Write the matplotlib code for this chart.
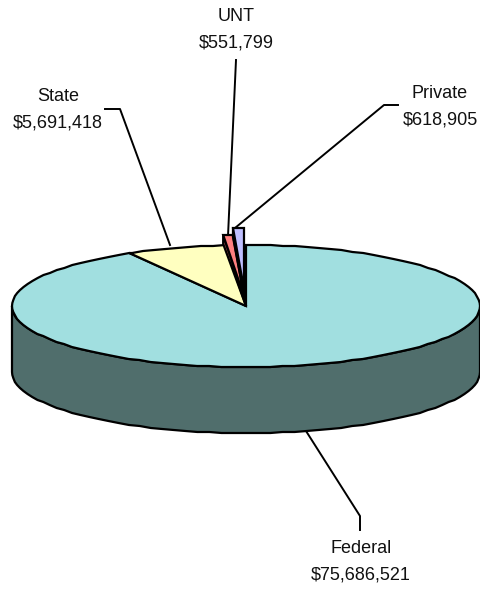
import numpy as np
import matplotlib
matplotlib.use('Agg')
import matplotlib.pyplot as plt
from matplotlib.patches import Polygon

plt.rcParams['font.family'] = ['Liberation Sans', 'DejaVu Sans']

# funding by source, counter clockwise from 12 o'clock
sources = ['Private', 'UNT', 'State', 'Federal']
amounts = [618905, 551799, 5691418, 75686521]
top_colors = ['#BFBFFF', '#FF8080', '#FFFFC0', '#A1DFE0']
side_colors = ['#6060A0', '#A05050', '#A0A070', '#506E6C']
# pixel shift of the pulled out slices
shifts = [(-2, -17), (-2, -10), (0, 0), (0, 0)]

# label text position and leader line, in pixels
label_xy = [(440, 107), (236, 30), (58, 110), (361, 562)]
leaders = [[(398, 105), (384, 105), (235, 228)],
           [(236, 60), (228, 236)],
           [(105, 109), (120, 109), (170, 245)],
           [(360, 530), (360, 516), (306, 431)]]

cx, cy, rx, ry, depth = 246, 306, 234, 61, 66


def rim(a0, a1, drop=0):
    # points on the ellipse, angle clockwise from 12 o'clock, slightly stepped like the original
    t = np.radians(np.arange(a0, a1, 3.0).tolist() + [a1])
    x = cx - rx * np.sin(t)
    y = cy - ry * np.cos(t) + drop
    return np.column_stack([x, np.round(y)])


fig = plt.figure(figsize=(4.81, 5.89), dpi=100)
ax = fig.add_axes([0, 0, 1, 1])
ax.set_xlim(0, 481)
ax.set_ylim(589, 0)
ax.axis('off')

fracs = np.array(amounts) / sum(amounts) * 360
starts = np.concatenate([[0], np.cumsum(fracs)[:-1]])
lw = 1.6

# Federal wall
wall = np.vstack([rim(90, 270), rim(90, 270, drop=depth)[::-1]])
ax.add_patch(Polygon(wall, closed=True, fc=side_colors[3], ec='black', lw=lw, zorder=1))

# Federal and State tops
for i in [3, 2]:
    pts = np.vstack([[(cx, cy)], rim(starts[i], starts[i] + fracs[i])])
    ax.add_patch(Polygon(pts, closed=True, fc=top_colors[i], ec='black', lw=lw, zorder=5 - i))

# two small pulled out slices, their dark side runs down to the centre
for i in [1, 0]:
    dx, dy = shifts[i]
    top = rim(starts[i], starts[i] + fracs[i]) + np.array([dx, dy])
    apex = np.array([cx + dx, cy + dy])
    side = np.array([top[-1], top[-1] + (0, 9), (cx, cy), apex])
    ax.add_patch(Polygon(side, closed=True, fc=side_colors[i], ec='black', lw=lw, zorder=4 + 2 * (1 - i)))
    ax.add_patch(Polygon(np.vstack([[apex], top]), closed=True, fc=top_colors[i], ec='black',
                         lw=lw, zorder=5 + 2 * (1 - i)))

for pts in leaders:
    pts = np.array(pts)
    ax.plot(pts[:, 0], pts[:, 1], color='black', lw=1.4, zorder=0)

for name, amt, (x, y) in zip(sources, amounts, label_xy):
    ax.text(x, y, f'{name}\n${amt:,}', ha='center', va='center', fontsize=13,
            linespacing=1.72, color='#111111')

fig.savefig('out.png', dpi=100)
